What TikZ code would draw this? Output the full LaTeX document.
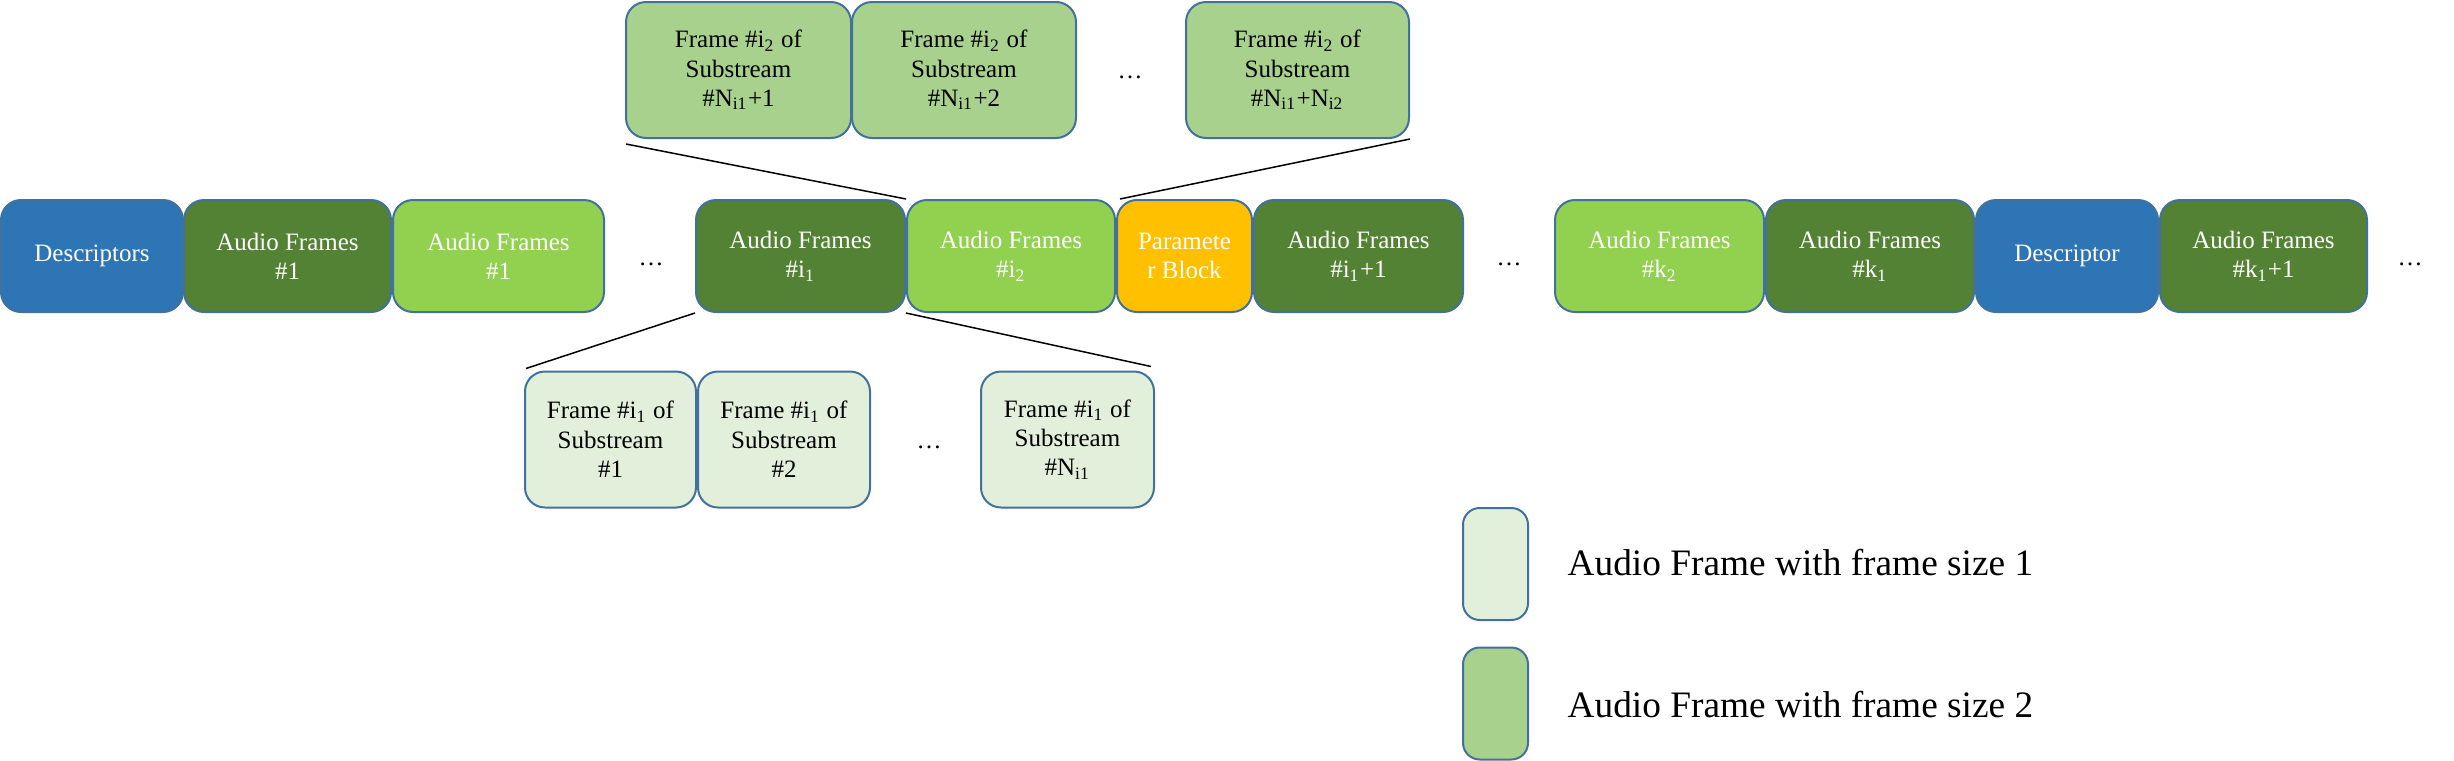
\documentclass[tikz,border=0pt]{standalone}
\usepackage{fontspec}
\setmainfont{Liberation Serif}
\usetikzlibrary{calc}
\definecolor{cblue}{HTML}{2E75B6}
\definecolor{cdark}{HTML}{548235}
\definecolor{clight}{HTML}{92D050}
\definecolor{corange}{HTML}{FFC000}
\definecolor{ctop}{HTML}{A9D18E}
\definecolor{cbot}{HTML}{E2EFDA}
\definecolor{cedge}{HTML}{41719C}
\begin{document}
\begin{tikzpicture}[x=0.3pt,y=-0.3pt,
 sz/.style 2 args={minimum width=#1*0.3pt, minimum height=#2*0.3pt},
 box/.style={draw=cedge, line width=0.6pt, rounded corners=6pt, inner sep=0pt, align=center, font=\fontsize{7.5}{8.8}\selectfont},
 mainbox/.style={box, text=white, sz={#1}{112}},
 subbox/.style={box, text=black, sz={#1}{136}},
 legbox/.style={draw=cedge, line width=0.6pt, rounded corners=5pt, inner sep=0pt, sz={65}{112}},
 dots/.style={inner sep=0pt, font=\fontsize{7.5}{8.8}\selectfont},
 legtext/.style={anchor=west, inner sep=0pt, font=\fontsize{11.2}{13}\selectfont},
 link/.style={draw=black, line width=0.45pt}]
\useasboundingbox (0,0) rectangle (2454,761);
% main row
\node[mainbox=182, fill=cblue] (d1) at (92,256) {Descriptors};
\node[mainbox=207, fill=cdark] (a1) at (287.5,256) {Audio Frames\\\#1};
\node[mainbox=211, fill=clight] (b1) at (498.5,256) {Audio Frames\\\#1};
\node[dots] (m1) at (651,264) {…};
\node[mainbox=209, fill=cdark] (i1) at (800.5,256) {Audio Frames\\\#i\textsubscript{1}};
\node[mainbox=208, fill=clight] (i2) at (1011,256) {Audio Frames\\\#i\textsubscript{2}};
\node[mainbox=135, fill=corange] (pb) at (1184.5,256) {Paramete\\r Block};
\node[mainbox=209, fill=cdark] (i3) at (1358.5,256) {Audio Frames\\\#i\textsubscript{1}+1};
\node[dots] (m2) at (1509,264) {…};
\node[mainbox=209, fill=clight] (k2) at (1659.5,256) {Audio Frames\\\#k\textsubscript{2}};
\node[mainbox=208, fill=cdark] (k1) at (1870,256) {Audio Frames\\\#k\textsubscript{1}};
\node[mainbox=182, fill=cblue] (d2) at (2067,256) {Descriptor};
\node[mainbox=207, fill=cdark] (k3) at (2263.5,256) {Audio Frames\\\#k\textsubscript{1}+1};
\node[dots] (m3) at (2410,264) {…};
% top row
\node[subbox=225, fill=ctop] (t1) at (738.5,70) {Frame \#i\textsubscript{2} of\\Substream\\\#N\textsubscript{i1}+1};
\node[subbox=224, fill=ctop] (t2) at (964,70) {Frame \#i\textsubscript{2} of\\Substream\\\#N\textsubscript{i1}+2};
\node[dots] (m4) at (1130,77) {…};
\node[subbox=223, fill=ctop] (t3) at (1297.5,70) {Frame \#i\textsubscript{2} of\\Substream\\\#N\textsubscript{i1}+N\textsubscript{i2}};
% bottom row
\node[subbox=171, fill=cbot] (s1) at (610.5,439.5) {Frame \#i\textsubscript{1} of\\Substream\\\#1};
\node[subbox=172, fill=cbot] (s2) at (784,439.5) {Frame \#i\textsubscript{1} of\\Substream\\\#2};
\node[dots] (m5) at (929,447) {…};
\node[subbox=173, fill=cbot] (s3) at (1067.5,439.5) {Frame \#i\textsubscript{1} of\\Substream\\\#N\textsubscript{i1}};
% connectors
\draw[link] ($(t1.south west)+(1,5)$) -- (i2.north west);
\draw[link] (t3.south east) -- ($(pb.north west)+(4,0)$);
\draw[link] (i1.south west) -- ($(s1.north west)+(2,-2)$);
\draw[link] (i1.south east) -- ($(s3.north east)+(-4,-4)$);
% legend
\node[legbox, fill=cbot] (l1) at (1495.5,564) {};
\node[legbox, fill=ctop] (l2) at (1495.5,703.5) {};
\node[legtext] (lt1) at (1567,563) {Audio Frame with frame size 1};
\node[legtext] (lt2) at (1567,705) {Audio Frame with frame size 2};
\end{tikzpicture}
\end{document}
